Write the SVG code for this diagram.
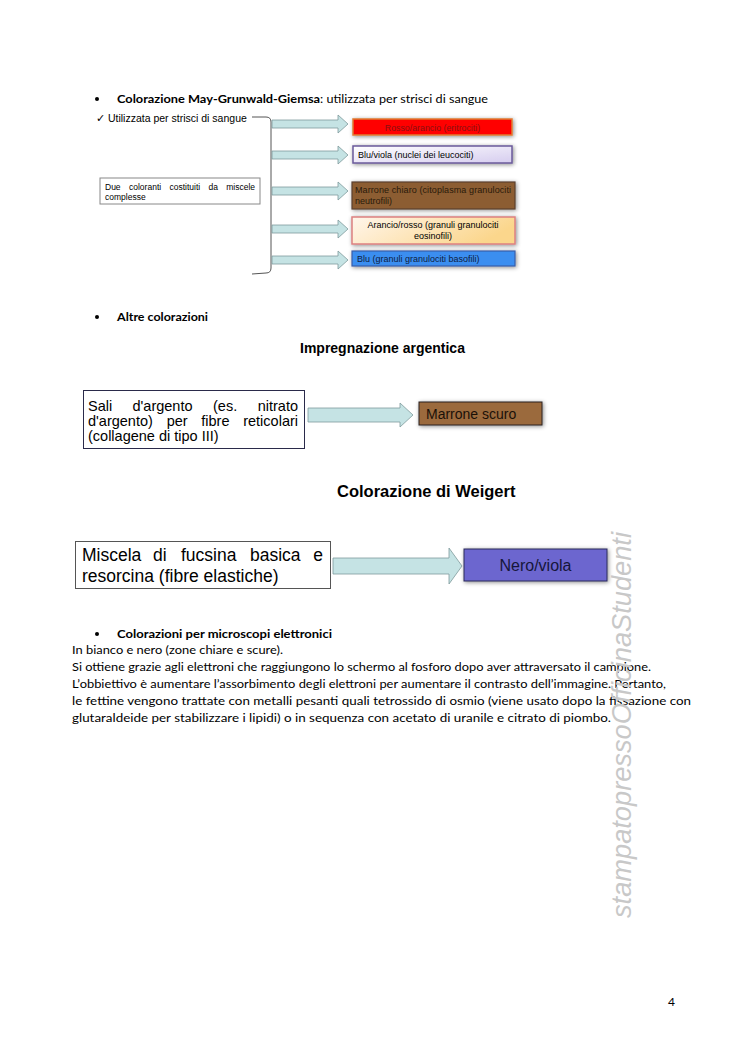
<svg xmlns="http://www.w3.org/2000/svg" width="744" height="1052" viewBox="0 0 744 1052">
<defs>
<style>
.body{font-family:Lato,"Open Sans","Liberation Sans",sans-serif;font-size:12px;fill:#000}
.b{font-weight:bold}
.ar{font-family:"Liberation Sans",Arial,sans-serif;fill:#000}
.arrow{fill:#c5e3e4;stroke:#7f9a9c;stroke-width:0.8}
.wm{font-family:"Liberation Sans",Arial,sans-serif;font-style:italic;font-size:27px;fill:#c8c8c8}
.box{fill:#fff;stroke:#888;stroke-width:1}
</style>
<filter id="sh" x="-20%" y="-50%" width="140%" height="200%">
<feGaussianBlur in="SourceAlpha" stdDeviation="2"/>
<feOffset dx="0.5" dy="1" result="b"/>
<feFlood flood-color="#000" flood-opacity="0.45"/>
<feComposite in2="b" operator="in"/>
<feMerge><feMergeNode/><feMergeNode in="SourceGraphic"/></feMerge>
</filter>
<linearGradient id="gViola" x1="0" y1="0" x2="1" y2="1"><stop offset="0" stop-color="#ffffff"/><stop offset="1" stop-color="#d6cdef"/></linearGradient>
<linearGradient id="gAranc" x1="0" y1="0" x2="1" y2="0.3"><stop offset="0" stop-color="#fff6ec"/><stop offset="1" stop-color="#fbd68c"/></linearGradient>
</defs>
<rect width="744" height="1052" fill="#fff"/>

<!-- Section 1 heading -->
<g id="heading1">
<circle cx="97" cy="99" r="2" fill="#000"/>
<text class="body b" x="117" y="103" textLength="203" lengthAdjust="spacingAndGlyphs">Colorazione May-Grunwald-Giemsa</text>
<text class="body" x="320" y="103" textLength="168" lengthAdjust="spacingAndGlyphs">: utilizzata per strisci di sangue</text>
</g>

<g id="utilizzata">
<text class="ar" x="96" y="122" font-size="10.5">✓ Utilizzata per strisci di sangue</text>
</g>

<g id="due-coloranti">
<rect class="box" x="100" y="178" width="160" height="26"/>
<g class="ar" font-size="8.5">
<text x="105" y="190">Due</text>
<text x="129" y="190">coloranti</text>
<text x="169.5" y="190">costituiti</text>
<text x="208.5" y="190">da</text>
<text x="255" y="190" text-anchor="end">miscele</text>
<text x="105" y="200">complesse</text>
</g>
</g>

<g id="connectors">
<path d="M252,117 L266,117 Q271,117 271,122 L271,268 Q271,273 266,273 L252,274" fill="none" stroke="#555" stroke-width="1"/>
<path class="arrow" d="M272,120 L338,120 L338,115 L348,124 L338,133 L338,128 L272,128 Z"/>
<path class="arrow" d="M272,151 L338,151 L338,146 L348,155 L338,164 L338,159 L272,159 Z"/>
<path class="arrow" d="M272,187 L338,187 L338,182 L348,191 L338,200 L338,195 L272,195 Z"/>
<path class="arrow" d="M272,225 L338,225 L338,220 L348,229 L338,238 L338,233 L272,233 Z"/>
<path class="arrow" d="M272,256 L338,256 L338,251 L348,260 L338,269 L338,264 L272,264 Z"/>
<path class="arrow" d="M308,408 L400,408 L400,403 L413,415 L400,427 L400,422 L308,422 Z"/>
<path class="arrow" d="M333,558 L449,558 L449,548 L462,566 L449,584 L449,574 L333,574 Z"/>
</g>

<g id="rosso">
<rect x="353" y="119" width="159" height="16" fill="#ff0000" stroke="#e07a30" stroke-width="1.5" filter="url(#sh)"/>
<text class="ar" x="432.5" y="130.5" font-size="8.8" fill="#8a1010" text-anchor="middle" style="fill:#8a1010">Rosso/arancio (eritrociti)</text>
</g>
<g id="bluviola">
<rect x="353" y="146" width="159" height="17" fill="url(#gViola)" stroke="#6a5a9a" stroke-width="1.5" filter="url(#sh)"/>
<text class="ar" x="358" y="158" font-size="9">Blu/viola (nuclei dei leucociti)</text>
</g>
<g id="marrone-chiaro">
<rect x="352" y="182" width="163" height="27" fill="#8c5d31" stroke="#5a4030" stroke-width="1.2" filter="url(#sh)"/>
<text class="ar" x="355" y="193" font-size="9" textLength="156" lengthAdjust="spacing" style="fill:#2a1a0a">Marrone chiaro (citoplasma granulociti</text>
<text class="ar" x="355" y="204" font-size="9" style="fill:#2a1a0a">neutrofili)</text>
</g>
<g id="arancio">
<rect x="352" y="217" width="163" height="27" fill="url(#gAranc)" stroke="#dc8080" stroke-width="1.5" filter="url(#sh)"/>
<text class="ar" x="433" y="228" font-size="9" text-anchor="middle">Arancio/rosso (granuli granulociti</text>
<text class="ar" x="433" y="239" font-size="9" text-anchor="middle">eosinofili)</text>
</g>
<g id="blu">
<rect x="352" y="251" width="163" height="15" fill="#3a8ef0" stroke="#3a5ea8" stroke-width="1.2" filter="url(#sh)"/>
<text class="ar" x="357" y="262" font-size="9" style="fill:#0e1c40">Blu (granuli granulociti basofili)</text>
</g>

<!-- Section 2 -->
<g id="heading2">
<circle cx="97" cy="317" r="2" fill="#000"/>
<text class="body b" x="117" y="321" textLength="91" lengthAdjust="spacingAndGlyphs">Altre colorazioni</text>
</g>
<g id="title-impregnazione">
<text class="ar" x="300" y="353" font-size="14" font-weight="bold">Impregnazione argentica</text>
</g>
<g id="sali">
<rect x="83.5" y="390.5" width="221" height="58" fill="#fff" stroke="#2a2a4a" stroke-width="1"/>
<g class="ar" font-size="14.5">
<text x="88" y="411">Sali</text>
<text x="132.5" y="411">d'argento</text>
<text x="213" y="411">(es.</text>
<text x="298" y="411" text-anchor="end">nitrato</text>
<text x="88" y="426">d'argento)</text>
<text x="166.7" y="426">per</text>
<text x="201.3" y="426">fibre</text>
<text x="298" y="426" text-anchor="end">reticolari</text>
<text x="88" y="441">(collagene di tipo III)</text>
</g>
</g>
<g id="marrone-scuro">
<rect x="419" y="402" width="123" height="23" fill="#9b6a3d" stroke="#2a2020" stroke-width="1" filter="url(#sh)"/>
<text class="ar" x="426" y="419" font-size="14" style="fill:#1a1008">Marrone scuro</text>
</g>

<!-- Section 3 -->
<g id="title-weigert">
<text class="ar" x="337" y="497" font-size="16.5" font-weight="bold">Colorazione di Weigert</text>
</g>
<g id="miscela">
<rect x="75.5" y="541.5" width="255" height="47" fill="#fff" stroke="#555" stroke-width="1"/>
<g class="ar" font-size="17.5">
<text x="82" y="561">Miscela</text>
<text x="153" y="561">di</text>
<text x="181" y="561">fucsina</text>
<text x="250" y="561">basica</text>
<text x="323" y="561" text-anchor="end">e</text>
<text x="82" y="582">resorcina (fibre elastiche)</text>
</g>
</g>
<g id="nero-viola">
<rect x="464" y="549" width="143" height="32" fill="#6c66cf" stroke="#2a2a5a" stroke-width="1" filter="url(#sh)"/>
<text class="ar" x="535.5" y="571" font-size="16" text-anchor="middle" style="fill:#16163a">Nero/viola</text>
</g>

<!-- Section 4 -->
<g id="heading4">
<circle cx="97" cy="634" r="2" fill="#000"/>
<text class="body b" x="117" y="638" textLength="215" lengthAdjust="spacingAndGlyphs">Colorazioni per microscopi elettronici</text>
</g>
<g id="body-text" class="body">
<text x="72" y="654" textLength="211" lengthAdjust="spacingAndGlyphs">In bianco e nero (zone chiare e scure).</text>
<text x="72" y="671" textLength="579" lengthAdjust="spacingAndGlyphs">Si ottiene grazie agli elettroni che raggiungono lo schermo al fosforo dopo aver attraversato il campione.</text>
<text x="72" y="688" textLength="594" lengthAdjust="spacingAndGlyphs">L’obbiettivo è aumentare l’assorbimento degli elettroni per aumentare il contrasto dell’immagine. Pertanto,</text>
<text x="72" y="705" textLength="619" lengthAdjust="spacingAndGlyphs">le fettine vengono trattate con metalli pesanti quali tetrossido di osmio (viene usato dopo la fissazione con</text>
<text x="72" y="722" textLength="539" lengthAdjust="spacingAndGlyphs">glutaraldeide per stabilizzare i lipidi) o in sequenza con acetato di uranile e citrato di piombo.</text>
</g>

<g id="watermark">
<text class="wm" transform="translate(631,918) rotate(-90)" x="0" y="0" textLength="386" lengthAdjust="spacingAndGlyphs">stampatopressoOfficinaStudenti</text>
</g>

<g id="page-number">
<text class="body" x="668" y="1006">4</text>
</g>
</svg>
